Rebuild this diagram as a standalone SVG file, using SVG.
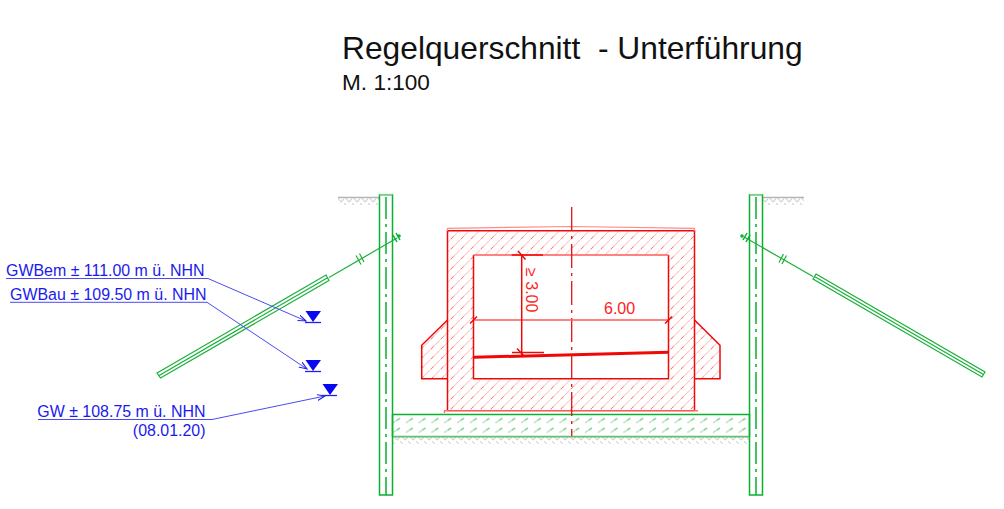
<svg xmlns="http://www.w3.org/2000/svg" width="1004" height="509" viewBox="0 0 1004 509">
<style>
text{font-family:"Liberation Sans",Arial,sans-serif}
.title{fill:#111;white-space:pre}
.blue{fill:#1a1aee;font-size:15.95px}
.red{fill:#f22;font-size:16px}
.g{fill:none;stroke:#08b030;stroke-width:1.5}
.gt{fill:none;stroke:#18b038;stroke-width:1.2}
.r{fill:none;stroke:#f00808;stroke-width:1.5}
.rl{fill:none;stroke:#ff5a5a;stroke-width:1.3}
.lead{fill:none;stroke:#4a4af5;stroke-width:1}
.ul{stroke:#2020f0;stroke-width:1.3}
.cd{stroke-dasharray:22 5 3 5}
</style>
<defs>
<pattern id="hr" patternUnits="userSpaceOnUse" width="10" height="10">
<path d="M-1 11L11 -1" stroke="#ffcaca" stroke-width="1.1"/>
<path d="M1 9L3.500 6.500" stroke="#ff7878" stroke-width="1"/>
</pattern>
<pattern id="hg" patternUnits="userSpaceOnUse" width="12.8" height="9.6" x="392" y="414.5">
<path d="M1 8.500L6 5" stroke="#b4e2bc" stroke-width="1.300"/>
<path d="M5 5.800L8 3.800" stroke="#60c474" stroke-width="1.200"/>
</pattern>
<pattern id="hk" patternUnits="userSpaceOnUse" width="8" height="7">
<path d="M0 0L5 6M5 6L8 3" stroke="#d0d0d0" stroke-width="1.100" fill="none"/>
</pattern>
<marker id="arr" markerUnits="userSpaceOnUse" markerWidth="9" markerHeight="8" refX="8" refY="3" orient="auto">
<path d="M0 0L8 3L0 6" fill="none" stroke="#2020f0" stroke-width="1.100"/>
</marker>
</defs>

<rect width="1004" height="509" fill="#fff"/>

<g id="title">
<text class="title" x="342" y="59" font-size="31.750" xml:space="preserve">Regelquerschnitt  - Unterführung</text>
<text class="title" x="342" y="90" font-size="22.6">M. 1:100</text>
</g>

<g id="ground">
<rect x="338" y="198" width="41" height="7" fill="url(#hk)"/>
<rect x="763" y="198" width="41" height="7" fill="url(#hk)"/>
<rect x="393" y="437" width="356" height="7" fill="url(#hk)"/>
<path d="M338 197.500H379M763 197.500H804" stroke="#b4b4b4" stroke-width="1.600" fill="none"/>
</g>

<g id="base-slab">
<rect x="392.500" y="414.500" width="357" height="22.300" fill="url(#hg)"/>
<path d="M392.500 414.500H749.500V436.700" class="g"/>
<path d="M392.500 414.500V436.700" class="g"/>
<path d="M392.500 436.700H749.500" fill="none" stroke="#60c070" stroke-width="1.800"/>
</g>

<g id="sheet-pile-left">
<rect x="379.500" y="194.700" width="13" height="300.300" class="g"/>
<path d="M379.500 194.700H392.500" stroke="#80d090" stroke-width="1.500"/>
<path d="M386 197V495" class="g cd"/>
</g>
<g id="sheet-pile-right">
<rect x="749.500" y="194.700" width="13" height="300.300" class="g"/>
<path d="M749.500 194.700H762.500" stroke="#80d090" stroke-width="1.500"/>
<path d="M756 197V495" class="g cd"/>
</g>

<g id="anchor-left">
<path d="M157 373L326 275L329 280.500L160.500 378ZM158.700 375.700L327.500 277.800" class="gt"/>
<path d="M329 277.500L397 238" class="gt"/>
<path d="M356 255.500L361 264.500M359.500 253.500L364 262" class="gt"/>
<path d="M393 235L397 242M396 233L400 240" class="g" stroke-width="2"/>
<circle cx="399" cy="236" r="1.800" fill="#10b030"/>
</g>
<g id="anchor-right">
<path d="M816 274L985 372L982 377L813 279ZM814.500 276.500L983.500 374.500" class="gt"/>
<path d="M813 276.500L745 237.500" class="gt"/>
<path d="M779 262.500L783.500 254M782 264L786.500 255.500" class="gt"/>
<path d="M743 240L747 233M746 242L750 235" class="g" stroke-width="2"/>
<circle cx="742" cy="236" r="1.800" fill="#10b030"/>
</g>

<g id="frame">
<path d="M447.500 230.700H694.500V410.700H447.500ZM473.500 255V378.700H668.500V255Z" fill="url(#hr)" fill-rule="evenodd"/>
<path d="M447.500 320L421.700 345.300V378.700H447.500ZM694.500 320L720 345.300V378.700H694.500Z" fill="url(#hr)"/>
<path d="M447.500 410.700V230.700H694.500V410.700" class="r"/>
<path d="M473.500 255V378.700H668.500V255" class="r"/>
<path d="M473.500 255H668.500" class="rl" stroke-width="1.800"/>
<path d="M447.500 320L421.700 345.300V378.700H447.500M694.500 320L720 345.300V378.700H694.500" class="r"/>
<path d="M447.300 228.300L571 226.500L694.500 228.300V231M447.300 228.300V231" fill="none" stroke="#ff8a8a" stroke-width="1.200"/>
<path d="M444.500 413V410.700H698" fill="none" stroke="#ff7070" stroke-width="1.500"/>
<path d="M447.500 410.700H694.500" class="rl" stroke-width="1.800"/>
<path d="M473.500 357.300L668.500 352.300" fill="none" stroke="#f00808" stroke-width="3"/>
<path d="M571.700 207V436" fill="none" stroke="#e81010" stroke-width="1.300" stroke-dasharray="24 5 3 5"/>
</g>

<g id="dimensions">
<path d="M473.500 320H668.500" class="rl"/>
<path d="M470 323.500L477 316.500M665 323.500L672 316.500" class="r" stroke-width="1.100"/>
<path d="M521.700 255V356" class="r" stroke-width="1.200"/>
<path d="M511.700 255H543M512 352.500H544" class="r" stroke-width="1.100"/>
<path d="M518 251L525.500 259.500M517 348.500L524 356" class="r" stroke-width="1.100"/>
<text class="red" x="604" y="314">6.00</text>
<text class="red" transform="translate(526 268) rotate(90)">≥ 3.00</text>
</g>

<g id="levels">
<g id="level-gwbem">
<path d="M305.500 311H321L313 322Z" fill="#0808f0"/>
<path d="M305 322.500H321" class="ul"/>
<text class="blue" x="6" y="276">GWBem ± 111.00 m ü. NHN</text>
</g>
<g id="level-gwbau">
<path d="M305.500 360H321L313 371Z" fill="#0808f0"/>
<path d="M305 371.500H321" class="ul"/>
<text class="blue" x="10" y="300">GWBau ± 109.50 m ü. NHN</text>
</g>
<g id="level-gw">
<path d="M322.500 384H338L330 395Z" fill="#0808f0"/>
<path d="M322 395.500H337" class="ul"/>
<text class="blue" x="205.500" y="416.500" text-anchor="end">GW ± 108.75 m ü. NHN</text>
<text class="blue" x="205.500" y="436" text-anchor="end">(08.01.20)</text>
</g>
</g>

<g id="connectors">
<path d="M6 278.500H208L306 321" class="lead" marker-end="url(#arr)"/>
<path d="M10 302.300H207L307 369" class="lead" marker-end="url(#arr)"/>
<path d="M38 419.500H212L325 396" class="lead" marker-end="url(#arr)"/>
</g>
</svg>
